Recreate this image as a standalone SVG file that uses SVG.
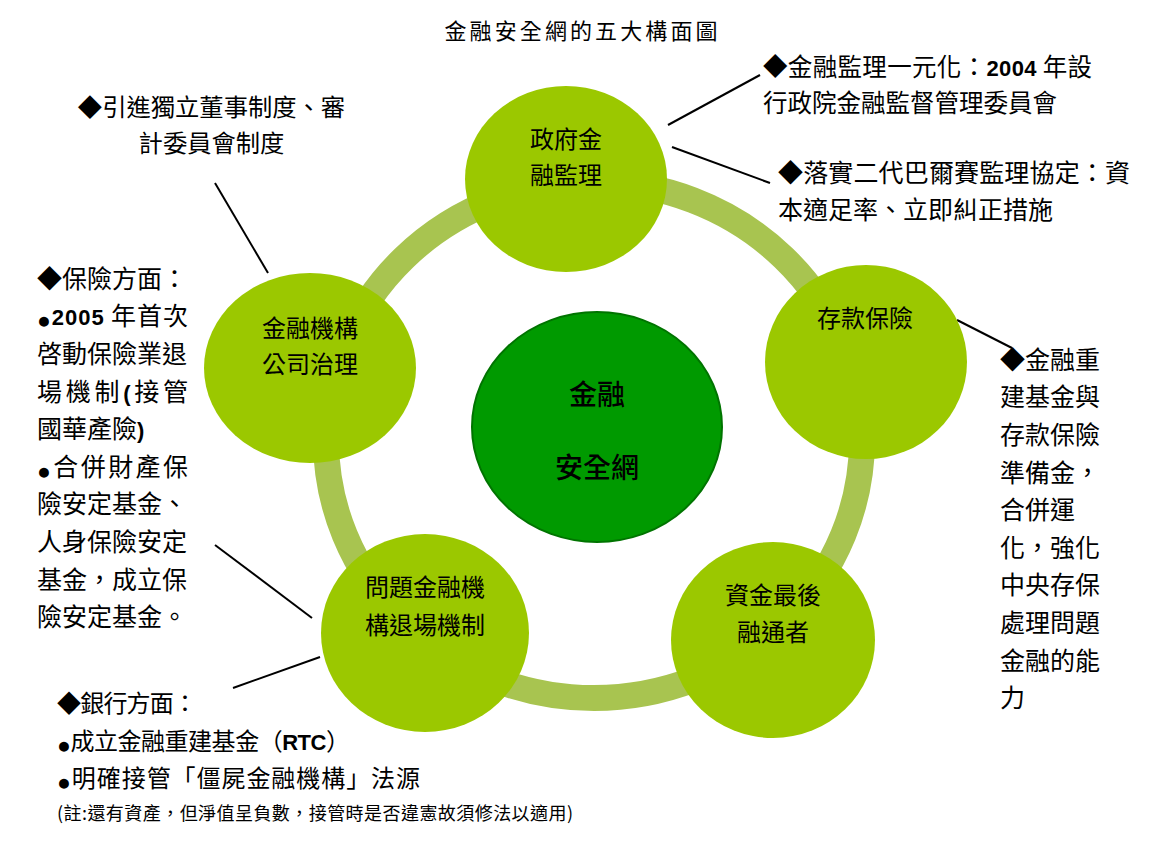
<svg xmlns="http://www.w3.org/2000/svg" width="1168" height="846" viewBox="0 0 1168 846">
<style>
.t{font-family:"Noto Sans CJK TC","Noto Sans CJK SC",sans-serif;fill:#000;}
.s{font-size:25px;}
.c{font-size:24px;text-anchor:middle;}
.b{font-family:"Liberation Sans",Arial,sans-serif;font-weight:bold;font-size:22px;}
.d{font-family:"Liberation Sans",Arial,sans-serif;font-size:23px;baseline-shift:-3px;}
.node{fill:#9BC800;}
.ln{stroke:#000;stroke-width:2;fill:none;}
</style>
<rect width="1168" height="846" fill="#fff"/>
<text class="t" x="581" y="39" font-size="22" text-anchor="middle" textLength="273" lengthAdjust="spacing">金融安全網的五大構面圖</text>

<g id="ring">
<ellipse cx="594" cy="440" rx="268" ry="258" fill="none" stroke="#A8C450" stroke-width="26"/>
</g>

<g id="connectors">
<line class="ln" x1="215" y1="183" x2="268" y2="273"/>
<line class="ln" x1="668" y1="125" x2="760" y2="75"/>
<line class="ln" x1="672" y1="147" x2="770" y2="183"/>
<line class="ln" x1="957" y1="320" x2="1012" y2="348"/>
<line class="ln" x1="215" y1="545" x2="312" y2="618"/>
<line class="ln" x1="233" y1="688" x2="320" y2="657"/>
</g>

<g id="center">
<ellipse cx="597" cy="427" rx="125" ry="115" fill="#009A00" stroke="#007400" stroke-width="2"/>
<text class="t" x="597" y="405" font-size="28" font-weight="500" text-anchor="middle">金融</text>
<text class="t" x="597" y="478" font-size="28" font-weight="500" text-anchor="middle">安全網</text>
</g>

<g id="node-top">
<ellipse class="node" cx="566" cy="179" rx="101" ry="93"/>
<text class="t c" x="566" y="148">政府金</text>
<text class="t c" x="566" y="184">融監理</text>
</g>

<g id="node-left">
<ellipse class="node" cx="310" cy="368" rx="106" ry="95"/>
<text class="t c" x="310" y="337">金融機構</text>
<text class="t c" x="310" y="373">公司治理</text>
</g>

<g id="node-right">
<ellipse class="node" cx="866" cy="362" rx="101" ry="97"/>
<text class="t c" x="865" y="327">存款保險</text>
</g>

<g id="node-bottom-left">
<ellipse class="node" cx="425" cy="633" rx="104" ry="99"/>
<text class="t c" x="425" y="596">問題金融機</text>
<text class="t c" x="425" y="634">構退場機制</text>
</g>

<g id="node-bottom-right">
<ellipse class="node" cx="773" cy="640" rx="102" ry="98"/>
<text class="t c" x="773" y="604">資金最後</text>
<text class="t c" x="773" y="641">融通者</text>
</g>

<g id="note-top-left">
<text class="t" x="211.5" y="116" font-size="24.3" text-anchor="middle">◆引進獨立董事制度、審</text>
<text class="t" x="211.5" y="152" font-size="24.3" text-anchor="middle">計委員會制度</text>
</g>

<g id="note-top-right-1">
<text class="t" x="763" y="76" font-size="24.5" textLength="329" lengthAdjust="spacing">◆金融監理一元化：<tspan class="b">2004</tspan> 年設</text>
<text class="t" x="763" y="112" font-size="24.5">行政院金融監督管理委員會</text>
</g>

<g id="note-top-right-2">
<text class="t" x="778" y="182" font-size="25" textLength="352" lengthAdjust="spacing">◆落實二代巴爾賽監理協定：資</text>
<text class="t" x="778" y="219" font-size="25">本適足率、立即糾正措施</text>
</g>

<g id="note-right">
<text class="t s" x="1000" y="369">◆金融重</text>
<text class="t s" x="1000" y="406">建基金與</text>
<text class="t s" x="1000" y="444">存款保險</text>
<text class="t s" x="1000" y="482">準備金，</text>
<text class="t s" x="1000" y="519">合併運</text>
<text class="t s" x="1000" y="557">化，強化</text>
<text class="t s" x="1000" y="594">中央存保</text>
<text class="t s" x="1000" y="632">處理問題</text>
<text class="t s" x="1000" y="670">金融的能</text>
<text class="t s" x="1000" y="707">力</text>
</g>

<g id="note-left">
<text class="t s" x="37" y="288">◆保險方面：</text>
<text class="t s" x="37" y="325" textLength="151" lengthAdjust="spacing"><tspan class="d">●</tspan><tspan class="b">2005</tspan> 年首次</text>
<text class="t s" x="37" y="363">啓動保險業退</text>
<text class="t s" x="37" y="401" textLength="151" lengthAdjust="spacing">場機制<tspan class="b">(</tspan>接管</text>
<text class="t s" x="37" y="438">國華產險<tspan class="b">)</tspan></text>
<text class="t s" x="37" y="476" textLength="151" lengthAdjust="spacing"><tspan class="d">●</tspan>合併財產保</text>
<text class="t s" x="37" y="513">險安定基金、</text>
<text class="t s" x="37" y="551">人身保險安定</text>
<text class="t s" x="37" y="589">基金，成立保</text>
<text class="t s" x="37" y="626">險安定基金。</text>
</g>

<g id="note-bottom-left">
<text class="t" x="57" y="712" font-size="24" textLength="140" lengthAdjust="spacing">◆銀行方面：</text>
<text class="t" x="57" y="750" font-size="24" textLength="293" lengthAdjust="spacing"><tspan class="d">●</tspan>成立金融重建基金（<tspan class="b">RTC</tspan>）</text>
<text class="t" x="57" y="787" font-size="24" textLength="363" lengthAdjust="spacing"><tspan class="d">●</tspan>明確接管「僵屍金融機構」法源</text>
<text class="t" x="57" y="820" font-size="18" textLength="516" lengthAdjust="spacing">(註:還有資產，但淨值呈負數，接管時是否違憲故須修法以適用)</text>
</g>
</svg>
